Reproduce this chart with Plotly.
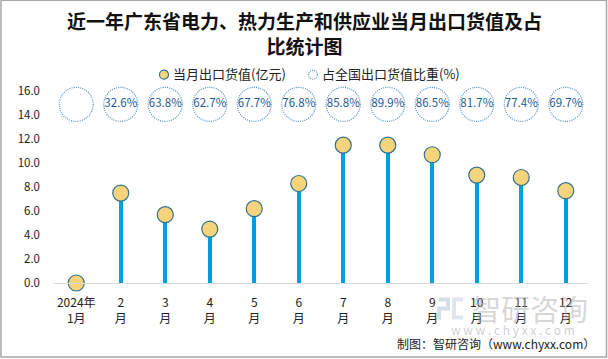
import plotly.graph_objects as go

months = ["2024年<br>1月", "2<br>月", "3<br>月", "4<br>月", "5<br>月", "6<br>月",
          "7<br>月", "8<br>月", "9<br>月", "10<br>月", "11<br>月", "12<br>月"]
export_value = [0.0, 7.5, 5.7, 4.5, 6.2, 8.3, 11.5, 11.5, 10.7, 9.0, 8.8, 7.7]
share_pct = [None, 32.6, 63.8, 62.7, 67.7, 76.8, 85.8, 89.9, 86.5, 81.7, 77.4, 69.7]
series_names = ["当月出口货值(亿元)", "占全国出口货值比重(%)"]
y_ticks = [0, 2, 4, 6, 8, 10, 12, 14, 16]
circle_level = 14.9

W, H = 608, 359
Y_MAX = 16.6                     # axis headroom so the top circles are not clipped
PX_PER_UNIT = 12.0
L, R, B = 54, 20, 75.5
T = 91.5 - (Y_MAX - 16) * PX_PER_UNIT
pw, ph = W - L - R, H - T - B

FONT = "Noto Sans CJK SC"
idx = list(range(len(months)))


def px_x(x):
    return (x - L) / pw


def px_y(y):
    return (H - B - y) / ph


def px_path(points):
    return "M " + " L ".join(f"{px_x(x):.5f},{px_y(y):.5f}" for x, y in points)


fig = go.Figure()

# stems
fig.add_trace(go.Bar(x=idx, y=export_value, width=0.09, marker=dict(color="#00a0e0", line=dict(width=0)),
                     showlegend=False, hoverinfo="skip"))
# markers
fig.add_trace(go.Scatter(x=idx, y=export_value, mode="markers", name=series_names[0],
                         marker=dict(size=16, color="#f7d47c", line=dict(color="#2f7290", width=1.2)),
                         cliponaxis=False, showlegend=False))
# share labels
fig.add_trace(go.Scatter(x=idx, y=[circle_level] * len(idx), name=series_names[1],
                         text=[("" if v is None else f"{v:.1f}%") for v in share_pct],
                         mode="text", textfont=dict(size=11.5, color="#1f5a96", family=FONT),
                         showlegend=False, cliponaxis=False))

DOT = "1px,1.2px"
shapes = []
for i in idx:
    shapes.append(dict(type="circle", xref="x", yref="y", xsizemode="pixel", ysizemode="pixel",
                       xanchor=i, yanchor=circle_level, x0=-17, x1=17, y0=-17, y1=17,
                       line=dict(color="#4f8fb8", width=1.2, dash=DOT), layer="above"))
# legend symbols (custom legend)
shapes.append(dict(type="circle", xref="paper", yref="paper", xsizemode="pixel", ysizemode="pixel",
                   xanchor=px_x(164), yanchor=px_y(75), x0=-4.5, x1=4.5, y0=-4.5, y1=4.5,
                   fillcolor="#f7d47c", line=dict(color="#2f7290", width=1.2)))
shapes.append(dict(type="circle", xref="paper", yref="paper", xsizemode="pixel", ysizemode="pixel",
                   xanchor=px_x(313), yanchor=px_y(75), x0=-4.5, x1=4.5, y0=-4.5, y1=4.5,
                   fillcolor="white", line=dict(color="#4f8fb8", width=1.2, dash=DOT)))
# watermark logo (approximate)
shapes.append(dict(type="path", xref="paper", yref="paper",
                   path=px_path([(439, 300), (448, 300), (448, 309), (439, 309), (439, 320)]),
                   line=dict(color="rgba(160,180,205,0.45)", width=4)))
shapes.append(dict(type="path", xref="paper", yref="paper",
                   path=px_path([(463, 300), (454, 300), (454, 318), (463, 318)]),
                   line=dict(color="rgba(160,180,205,0.35)", width=4)))
# outer frame
shapes.append(dict(type="rect", xref="paper", yref="paper",
                   x0=px_x(1), x1=px_x(606.5), y0=px_y(357.5), y1=px_y(0.5),
                   line=dict(color="#a6a6a6", width=1.5)))


def ann(text, x, y, size, color, xanchor="center", yanchor="middle"):
    return dict(text=text, xref="paper", yref="paper", x=px_x(x), y=px_y(y), xanchor=xanchor,
                yanchor=yanchor, showarrow=False, font=dict(size=size, color=color, family=FONT))


annotations = [
    ann(series_names[0], 171, 74, 13, "#222222", xanchor="left"),
    ann(series_names[1], 320, 74, 13, "#222222", xanchor="left"),
    ann("<b>近一年广东省电力、热力生产和供应业当月出口货值及占<br>比统计图</b>", 304, 33, 19, "#111111"),
    ann("智研咨询", 530, 309, 29, "rgba(175,175,175,0.5)"),
    ann("w w w . c h y x x . c o m", 513, 330, 12, "rgba(175,175,175,0.6)"),
    ann("制图：智研咨询（www.chyxx.com）", 597, 344, 12, "#222222", xanchor="right"),
]

fig.update_layout(
    width=W, height=H, margin=dict(l=L, r=R, t=T, b=B),
    paper_bgcolor="white", plot_bgcolor="white",
    font=dict(family=FONT, color="#222222"),
    showlegend=False,
    xaxis=dict(tickmode="array", tickvals=idx, ticktext=months, range=[-0.5, 11.5],
               showgrid=False, zeroline=False, showline=True, linecolor="#d9d9d9", linewidth=1,
               ticks="", tickfont=dict(size=12, color="#222222"), ticklabelstandoff=9),
    yaxis=dict(range=[0, Y_MAX], tickmode="array", tickvals=y_ticks,
               ticktext=[f"{v:.1f}" for v in y_ticks], showgrid=False, zeroline=False,
               showline=False, ticks="", tickfont=dict(size=11.5, color="#222222"), ticklabelstandoff=13),
    shapes=shapes, annotations=annotations, bargap=0,
)

fig.write_html("out.html", config={"displayModeBar": False},
               post_script="document.body.style.margin='0';document.body.style.overflow='hidden';")
